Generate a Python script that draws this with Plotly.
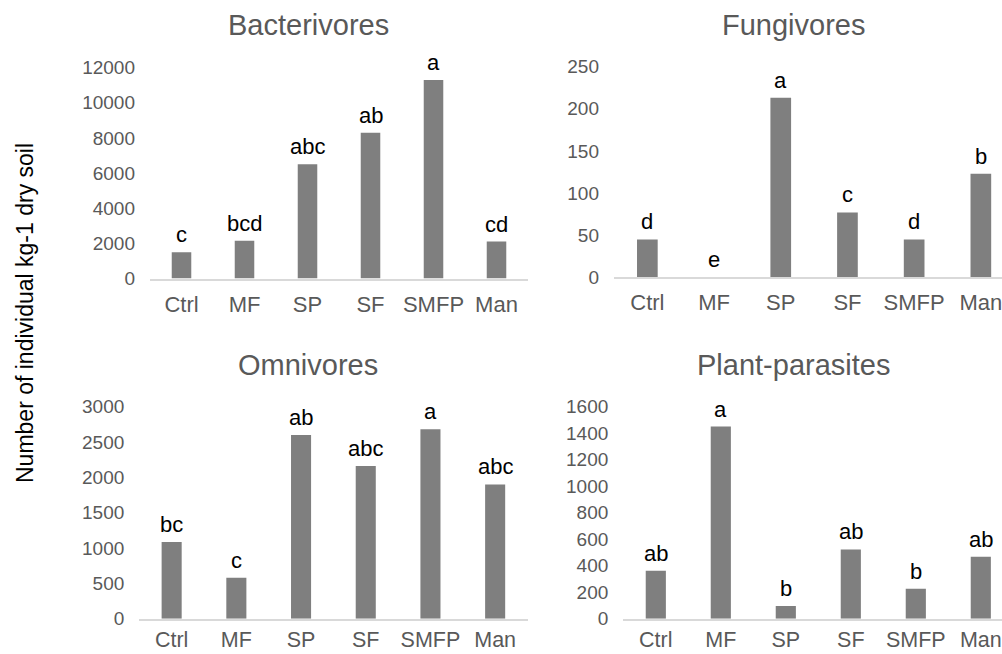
import plotly.graph_objects as go

W, H = 1002, 654

categories = ["Ctrl", "MF", "SP", "SF", "SMFP", "Man"]

bacterivores = [1500, 2150, 6500, 8300, 11300, 2100]
bacterivores_letters = ["c", "bcd", "abc", "ab", "a", "cd"]
bacterivores_ticks = [0, 2000, 4000, 6000, 8000, 10000, 12000]

fungivores = [45, 0, 213, 77, 45, 123]
fungivores_letters = ["d", "e", "a", "c", "d", "b"]
fungivores_ticks = [0, 50, 100, 150, 200, 250]

omnivores = [1085, 580, 2600, 2160, 2680, 1900]
omnivores_letters = ["bc", "c", "ab", "abc", "a", "abc"]
omnivores_ticks = [0, 500, 1000, 1500, 2000, 2500, 3000]

plant_parasites = [362, 1450, 95, 523, 226, 468]
plant_parasites_letters = ["ab", "a", "b", "ab", "b", "ab"]
plant_parasites_ticks = [0, 200, 400, 600, 800, 1000, 1200, 1400, 1600]

titles = ["Bacterivores", "Fungivores", "Omnivores", "Plant-parasites"]
y_title = "Number of individual kg-1 dry soil"

FONT = "Liberation Sans, Arial, sans-serif"
BAR = "#7f7f7f"
GREY_TXT = "#595959"

# panel geometry in pixels: x_start, category spacing, y of zero, y of top tick
panels = [
    dict(vals=bacterivores, letters=bacterivores_letters, ticks=bacterivores_ticks,
         x0=150, step=63.0, ybot=278.5, ytop=67.7, title_xy=(308, 25), xstand=5, xfs=22),
    dict(vals=fungivores, letters=fungivores_letters, ticks=fungivores_ticks,
         x0=614, step=66.7, ybot=277.3, ytop=66.7, title_xy=(793, 25), xstand=5, xfs=22),
    dict(vals=omnivores, letters=omnivores_letters, ticks=omnivores_ticks,
         x0=139.3, step=64.7, ybot=618.7, ytop=406.7, title_xy=(308, 365), xstand=1, xfs=21.5),
    dict(vals=plant_parasites, letters=plant_parasites_letters, ticks=plant_parasites_ticks,
         x0=623.3, step=65.0, ybot=618.7, ytop=406.7, title_xy=(793, 365), xstand=1, xfs=21.5),
]

fig = go.Figure()
annotations = []
layout = {}

for i, p in enumerate(panels):
    n = i + 1
    xa = "x" if n == 1 else f"x{n}"
    ya = "y" if n == 1 else f"y{n}"
    xkey = "xaxis" if n == 1 else f"xaxis{n}"
    ykey = "yaxis" if n == 1 else f"yaxis{n}"

    x_end = p["x0"] + 6 * p["step"]
    x_end_clip = min(x_end, W)
    xr_hi = -0.5 + (x_end_clip - p["x0"]) / p["step"]

    fig.add_trace(go.Bar(
        x=categories, y=p["vals"], xaxis=xa, yaxis=ya,
        marker=dict(color=BAR, line=dict(width=0)),
        width=0.31, showlegend=False, cliponaxis=False,
    ))

    layout[xkey] = dict(
        domain=[p["x0"] / W, x_end_clip / W],
        anchor=ya, type="category", range=[-0.5, xr_hi],
        showline=True, linecolor="#d9d9d9", linewidth=1.5,
        showgrid=False, zeroline=False, ticks="", automargin=False,
        tickfont=dict(family=FONT, size=p["xfs"], color=GREY_TXT),
        ticklabelstandoff=p["xstand"], fixedrange=True,
    )
    ymax = p["ticks"][-1]
    layout[ykey] = dict(
        domain=[1 - p["ybot"] / H, 1 - p["ytop"] / H],
        anchor=xa, range=[0, ymax],
        tickvals=p["ticks"], ticktext=[str(t) for t in p["ticks"]],
        showline=False, showgrid=False, zeroline=False, ticks="", automargin=False,
        tickfont=dict(family=FONT, size=19, color=GREY_TXT),
        ticklabelstandoff=14, fixedrange=True,
    )

    for c, v, lt in zip(categories, p["vals"], p["letters"]):
        annotations.append(dict(
            x=c, y=v, xref=xa, yref=ya, text=lt, showarrow=False,
            yanchor="bottom", xanchor="center", yshift=3,
            font=dict(family=FONT, size=22, color="#000000"),
        ))

    tx, ty = p["title_xy"]
    annotations.append(dict(
        x=tx / W, y=1 - ty / H, xref="paper", yref="paper",
        text=titles[i], showarrow=False, xanchor="center", yanchor="middle",
        font=dict(family=FONT, size=29, color=GREY_TXT),
    ))

annotations.append(dict(
    x=25 / W, y=1 - 313 / H, xref="paper", yref="paper",
    text=y_title, showarrow=False, textangle=-90,
    xanchor="center", yanchor="middle",
    font=dict(family=FONT, size=23, color="#000000"),
))

fig.update_layout(
    width=W, height=H, autosize=False,
    margin=dict(l=0, r=0, t=0, b=0, pad=0),
    paper_bgcolor="white", plot_bgcolor="white",
    annotations=annotations,
    **layout,
)

fig.write_html("out.html")
